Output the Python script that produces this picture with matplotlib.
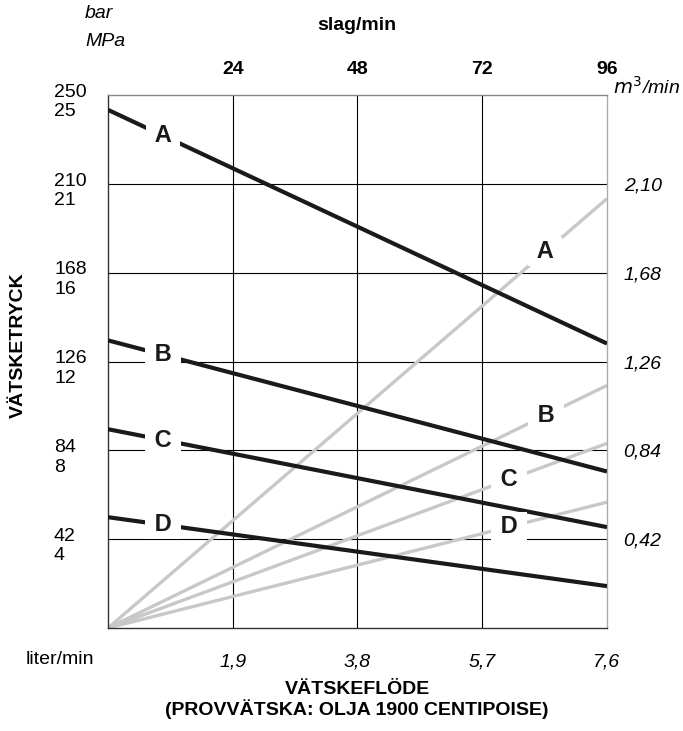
import matplotlib
matplotlib.use("Agg")
import matplotlib.pyplot as plt
import matplotlib.transforms as mtransforms
import numpy as np

plt.rcParams['font.family'] = ['Liberation Sans', 'DejaVu Sans']

# flow axis (liter/min) and its ticks
flow_ticks = [1.9, 3.8, 5.7, 7.6]
flow_labels = ["1,9", "3,8", "5,7", "7,6"]
stroke_labels = ["24", "48", "72", "96"]

# pressure axis (bar) gridlines and left labels
bar_ticks = [42, 84, 126, 168, 210, 252]
left_labels = ["42\n4", "84\n8", "126\n12", "168\n16", "210\n21", "250\n25"]
right_ticks = [42, 84, 126, 168, 210]
right_labels = ["0,42", "0,84", "1,26", "1,68", "2,10"]

curve_names = ["A", "B", "C", "D"]
# pressure curves (bar) at flow 0 and 7.6 l/min
press_x = [0, 7.6]
press_A = [245, 134.5]
press_B = [136, 74]
press_C = [94, 47.7]
press_D = [52.4, 19.8]
# flow rays from origin (value at 7.6 l/min, same scale as bar)
ray_x = [0, 7.6]
ray_A = [0, 203]
ray_B = [0, 114.7]
ray_C = [0, 87.3]
ray_D = [0, 59.5]

press_lbl_x = [0.84, 0.84, 0.84, 0.84]
ray_lbl_x = [6.66, 6.67, 6.11, 6.11]

fig = plt.figure(figsize=(6.83, 7.31), dpi=100)
ax = fig.add_axes([0.1581, 0.1409, 0.7306, 0.7291])
ax.set_xlim(0, 7.6)
ax.set_ylim(0, 252)

for v in flow_ticks[:-1]:
    ax.axvline(v, color='black', lw=0.8, zorder=1)
for v in bar_ticks[:-1]:
    ax.axhline(v, color='black', lw=0.8, zorder=1)
for s in ax.spines.values():
    s.set_color('#333333')
    s.set_linewidth(1.0)
ax.spines['right'].set_color('#aaaaaa')
ax.spines['top'].set_color('#888888')

gray = '#c8c8c8'
for ys in [ray_A, ray_B, ray_C, ray_D]:
    ax.plot(ray_x, ys, color=gray, lw=2.4, solid_capstyle='butt', zorder=2)
for ys in [press_A, press_B, press_C, press_D]:
    ax.plot(press_x, ys, color='#1a1a1a', lw=3.0, solid_capstyle='butt', zorder=3)

# curve letters sit in a white gap on their line
for name, lx, ys in zip(curve_names, press_lbl_x, [press_A, press_B, press_C, press_D]):
    ly = np.interp(lx, press_x, ys)
    ax.text(lx, ly, " " + name + " ", ha='center', va='center', fontsize=17, fontweight='bold',
            color='#1a1a1a', zorder=5,
            bbox=dict(facecolor='white', edgecolor='none', pad=2))
for name, lx, ys in zip(curve_names, ray_lbl_x, [ray_A, ray_B, ray_C, ray_D]):
    ly = np.interp(lx, ray_x, ys)
    ax.text(lx, ly, " " + name + " ", ha='center', va='center', fontsize=17, fontweight='bold',
            color='#1a1a1a', zorder=5,
            bbox=dict(facecolor='white', edgecolor='none', pad=2))

# bottom ticks
ax.set_xticks(flow_ticks)
ax.set_xticklabels(flow_labels, fontsize=14, fontstyle='italic')
ax.set_yticks([])
ax.tick_params(axis='x', length=0, pad=18)

# top ticks
top = ax.twiny()
top.set_xlim(ax.get_xlim())
top.set_xticks(flow_ticks)
top.set_xticklabels(stroke_labels, fontsize=14, fontweight='bold')
top.tick_params(axis='x', length=0, pad=12)
for s in top.spines.values():
    s.set_visible(False)

# right ticks
right = ax.twinx()
right.set_ylim(ax.get_ylim())
right.set_yticks(right_ticks)
right.set_yticklabels(right_labels, fontsize=14, fontstyle='italic')
right.tick_params(axis='y', length=0, pad=12)
for s in right.spines.values():
    s.set_visible(False)

# left two-line labels
trans = mtransforms.blended_transform_factory(fig.transFigure, ax.transData)
off = mtransforms.ScaledTranslation(0, -7 / 100, fig.dpi_scale_trans)
for v, lab in zip(bar_ticks, left_labels):
    ax.text(54 / 683, v, lab, transform=trans + off, ha='left', va='center',
            fontsize=14, linespacing=1.2, clip_on=False)

fig.text(85 / 683, 1 - 14 / 731, "bar", fontsize=14, fontstyle='italic', ha='left', va='center')
fig.text(85 / 683, 1 - 42 / 731, "MPa", fontsize=14, fontstyle='italic', ha='left', va='center')
fig.text(357 / 683, 1 - 26 / 731, "slag/min", fontsize=14, fontweight='bold', ha='center', va='center')
fig.text(613 / 683, 1 - 87 / 731, "$m^3$/min", fontsize=14, fontstyle='italic', ha='left', va='center')
fig.text(60 / 683, 1 - 660 / 731, "liter/min", fontsize=14, ha='center', va='center')
fig.text(18 / 683, 1 - 345 / 731, "VÄTSKETRYCK", fontsize=14, fontweight='bold',
         rotation=90, ha='center', va='center')
fig.text(357 / 683, 1 - 700 / 731, "VÄTSKEFLÖDE\n(PROVVÄTSKA: OLJA 1900 CENTIPOISE)",
         fontsize=14, fontweight='bold', ha='center', va='center', linespacing=1.05)

fig.savefig("out.png", dpi=100)
